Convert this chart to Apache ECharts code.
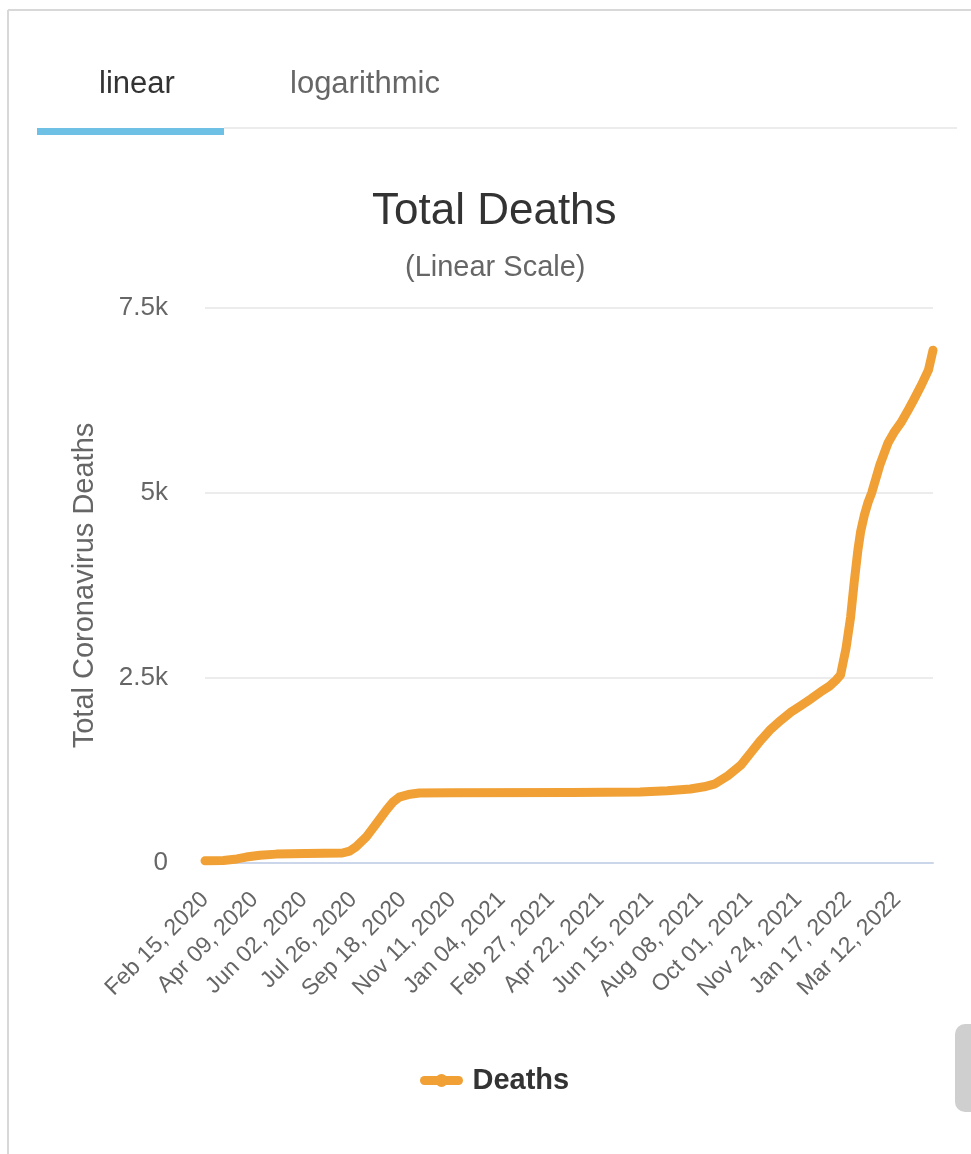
<!DOCTYPE html>
<html>
<head>
<meta charset="utf-8">
<script src="https://cdn.jsdelivr.net/npm/echarts@6/dist/echarts.min.js"></script>
<style>
html,body{margin:0;padding:0;background:#fff;}
#chart{width:971px;height:1154px;}
</style>
</head>
<body>
<div id="chart"></div>
<script>
// Daily category labels from Feb 15, 2020 to Apr 20, 2022
const startDate = [2020, 1, 15];
const dayCount = 796;
const monthNames = ['Jan','Feb','Mar','Apr','May','Jun','Jul','Aug','Sep','Oct','Nov','Dec'];
const categories = [];
for (let i = 0; i < dayCount; i++) {
  const d = new Date(Date.UTC(startDate[0], startDate[1], startDate[2] + i));
  const dd = String(d.getUTCDate()).padStart(2, '0');
  categories.push(monthNames[d.getUTCMonth()] + ' ' + dd + ', ' + d.getUTCFullYear());
}
// Key days (index into categories) and readings of total deaths
const keyDays = [0, 20, 35, 45, 60, 78, 110, 150, 158, 165, 176, 187, 198, 205, 212, 222, 234, 270, 400, 475, 505, 530, 545, 557, 571, 585, 596, 607, 618, 629, 640, 651, 662, 672, 682, 689, 694, 700, 705, 709, 713, 716, 720, 724, 728, 737, 746, 753, 760, 767, 774, 782, 790, 795];
const deaths  = [30, 35, 55, 80, 105, 120, 128, 135, 160, 220, 350, 530, 715, 820, 890, 925, 945, 950, 952, 960, 975, 1000, 1030, 1070, 1180, 1320, 1490, 1660, 1810, 1930, 2040, 2130, 2220, 2310, 2390, 2470, 2540, 2900, 3320, 3800, 4230, 4480, 4700, 4870, 5000, 5380, 5680, 5830, 5950, 6100, 6260, 6450, 6660, 6930];
const yTicks = ['0', '2.5k', '5k', '7.5k'];

const seriesData = keyDays.map((d, i) => [categories[d], deaths[i]]);

const chart = echarts.init(document.getElementById('chart'));
const FONT = 'Liberation Sans, Arial, sans-serif';
chart.setOption({
  backgroundColor: '#fff',
  animation: false,
  textStyle: { fontFamily: FONT },
  title: [
    { text: 'Total Deaths', left: 367, top: 185, textStyle: { fontSize: 44, fontWeight: 'normal', color: '#333', fontFamily: FONT } },
    { text: '(Linear Scale)', left: 400, top: 248, textStyle: { fontSize: 29, fontWeight: 'normal', color: '#666', fontFamily: FONT } }
  ],
  graphic: [
    { type: 'line', shape: { x1: 8, y1: 10, x2: 971, y2: 10 }, style: { stroke: '#d8d8d8', lineWidth: 2 } },
    { type: 'line', shape: { x1: 8, y1: 10, x2: 8, y2: 1154 }, style: { stroke: '#d8d8d8', lineWidth: 2 } },
    { type: 'text', left: 99, top: 69, style: { text: 'linear', fontSize: 31, fill: '#333', fontFamily: FONT } },
    { type: 'text', left: 290, top: 69, style: { text: 'logarithmic', fontSize: 31, fill: '#666', fontFamily: FONT } },
    { type: 'line', shape: { x1: 224, y1: 128, x2: 957, y2: 128 }, style: { stroke: '#ececec', lineWidth: 2 } },
    { type: 'rect', shape: { x: 37, y: 128, width: 187, height: 7 }, style: { fill: '#6ec1e4' } },
    { type: 'rect', shape: { x: 955, y: 1024, width: 30, height: 88, r: 10 }, style: { fill: '#cfcfcf' } }
  ],
  legend: {
    bottom: 54,
    left: 415,
    itemWidth: 34,
    itemHeight: 16,
    itemGap: 12,
    lineStyle: { width: 9 },
    textStyle: { fontSize: 29, fontWeight: 'bold', color: '#333', fontFamily: FONT, padding: [0, 0, 0, 9] },
    data: ['Deaths']
  },
  grid: { left: 205, right: 38, top: 308, bottom: 291, containLabel: false },
  xAxis: {
    type: 'category',
    data: categories,
    boundaryGap: false,
    axisLine: { lineStyle: { color: '#ccd6eb', width: 2 } },
    axisTick: { show: false },
    axisLabel: { interval: 53, rotate: 45, fontSize: 23, color: '#666', margin: 33, fontFamily: FONT },
    splitLine: { show: false }
  },
  yAxis: {
    type: 'value',
    min: 0,
    max: 7500,
    interval: 2500,
    name: 'Total Coronavirus Deaths',
    nameLocation: 'middle',
    nameGap: 106,
    nameTextStyle: { fontSize: 29, color: '#666', fontFamily: FONT },
    axisLine: { show: false },
    axisTick: { show: false },
    axisLabel: { fontSize: 26, color: '#666', margin: 37, fontFamily: FONT,
      formatter: v => yTicks[Math.round(v / 2500)] },
    splitLine: { lineStyle: { color: '#e6e6e6', width: 1.5 } }
  },
  series: [{
    name: 'Deaths',
    type: 'line',
    data: seriesData,
    smooth: false,
    symbol: 'circle',
    symbolSize: 16,
    showSymbol: false,
    lineStyle: { color: '#f0a035', width: 9, cap: 'round', join: 'round' },
    itemStyle: { color: '#f0a035' }
  }]
});
</script>
</body>
</html>
